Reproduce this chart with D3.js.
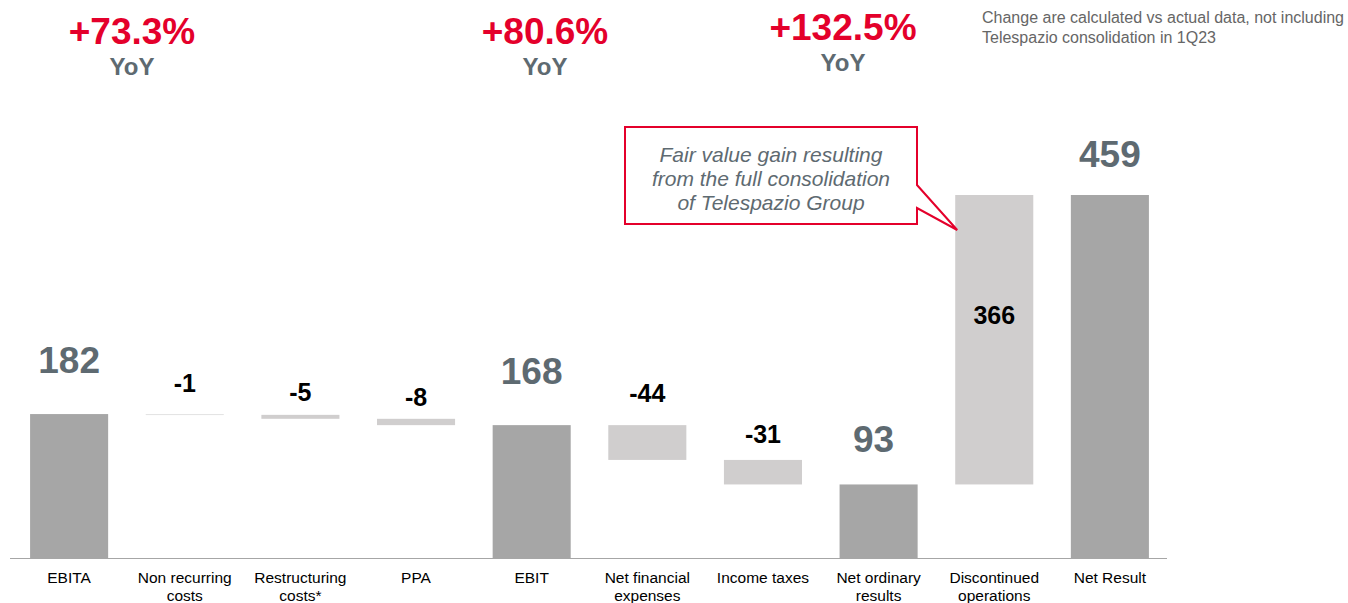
<!DOCTYPE html>
<html>
<head>
<meta charset="utf-8">
<script src="https://cdn.jsdelivr.net/npm/d3@7"></script>
<style>
  body { margin: 0; background: #fff; }
  svg { display: block; font-family: "Liberation Sans", Arial, sans-serif; }
</style>
</head>
<body>
<div id="chart"></div>
<script>
"use strict";

// chart data
var categories = [["EBITA"], ["Non recurring", "costs"], ["Restructuring", "costs*"], ["PPA"], ["EBIT"],
                  ["Net financial", "expenses"], ["Income taxes"], ["Net ordinary", "results"],
                  ["Discontinued", "operations"], ["Net Result"]];
var values = [182, -1, -5, -8, 168, -44, -31, 93, 366, 459];
var isTotal = [true, false, false, false, true, false, false, true, false, true];
var valueLabels = ["182", "-1", "-5", "-8", "168", "-44", "-31", "93", "366", "459"];

var yoyLabels = ["+73.3%", "+80.6%", "+132.5%"];
var noteLines = ["Change are calculated vs actual data, not including", "Telespazio consolidation in 1Q23"];
var calloutLines = ["Fair value gain resulting", "from the full consolidation", "of Telespazio Group"];

// small label nudges (px) so labels sit like in the slide
var labelNudge = [-6, -4, 4, 5, -6, -5, 1, 3, 0, 7];

function waterfall() {
    var w = 1348, h = 603;
    var base = 558;

    var svg = d3.select("#chart")
                .append("svg")
                .attr("width", w)
                .attr("height", h);

    // build start/end for each step
    var run = 0;
    var rows = values.map(function(v, i) {
        var r;
        if (isTotal[i]) {
            r = { y0: 0, y1: v };
            run = v;
        } else {
            r = { y0: run, y1: run + v };
            run = run + v;
        }
        r.i = i;
        r.total = isTotal[i];
        r.label = valueLabels[i];
        r.cat = categories[i];
        return r;
    });

    var x = d3.scaleBand()
              .domain(d3.range(values.length))
              .range([11, 1168])
              .paddingInner(0.325)
              .paddingOuter(0.165);

    var y = d3.scaleLinear()
              .domain([0, 459])
              .range([base, 195]);

    svg.selectAll("rect.bar")
       .data(rows)
       .enter()
       .append("rect")
       .attr("class", "bar")
       .attr("x", function(d) { return x(d.i); })
       .attr("width", x.bandwidth())
       .attr("y", function(d) { return y(Math.max(d.y0, d.y1)); })
       .attr("height", function(d) { return Math.max(1, Math.abs(y(d.y0) - y(d.y1))); })
       .style("fill", function(d) {
           if (d.i == 1) return "#e3e3e3"; // hairline step
           return d.total ? "#a6a6a6" : "#d0cece";
       });

    // axis line
    svg.append("line")
       .attr("x1", 10).attr("x2", 1167)
       .attr("y1", base + 0.5).attr("y2", base + 0.5)
       .style("stroke", "#a6a6a6")
       .style("stroke-width", 1);

    // category labels
    var cats = svg.selectAll("text.cat")
       .data(rows)
       .enter()
       .append("text")
       .attr("class", "cat")
       .attr("text-anchor", "middle")
       .attr("x", function(d) { return x(d.i) + x.bandwidth() / 2; })
       .attr("y", 583)
       .style("font-size", "15.5px")
       .style("fill", "#000");
    cats.selectAll("tspan")
        .data(function(d) { return d.cat.map(function(t) { return { t: t, xx: x(d.i) + x.bandwidth() / 2 }; }); })
        .enter()
        .append("tspan")
        .attr("x", function(d) { return d.xx; })
        .attr("dy", function(d, j) { return j == 0 ? 0 : 18; })
        .text(function(d) { return d.t; });

    // value labels
    svg.selectAll("text.val")
       .data(rows)
       .enter()
       .append("text")
       .attr("class", "val")
       .attr("text-anchor", "middle")
       .attr("x", function(d) { return x(d.i) + x.bandwidth() / 2 - (d.i == 7 ? 5 : 0); })
       .attr("y", function(d) {
           if (d.i == 8) return y((d.y0 + d.y1) / 2) - 16; // inside the tall step
           var top = y(Math.max(d.y0, d.y1));
           return (d.total ? top - 35 : top - 18) + labelNudge[d.i];
       })
       .style("font-weight", "bold")
       .style("font-size", function(d) { return d.total ? "37px" : "25px"; })
       .style("fill", function(d) { return d.total ? "#5e6a71" : "#000"; })
       .text(function(d) { return d.label; });

    // YoY headers
    var yoyX = [132, 545, 843];
    var yoyY = [44, 44, 40];
    yoyLabels.forEach(function(t, i) {
        svg.append("text")
           .attr("x", yoyX[i]).attr("y", yoyY[i])
           .attr("text-anchor", "middle")
           .style("font-weight", "bold")
           .style("font-size", "37px")
           .style("fill", "#e4002b")
           .text(t);
        svg.append("text")
           .attr("x", yoyX[i]).attr("y", yoyY[i] + 31)
           .attr("text-anchor", "middle")
           .style("font-weight", "bold")
           .style("font-size", "24px")
           .style("fill", "#5e6a71")
           .text("YoY");
    });

    // footnote top right
    svg.selectAll("text.note")
       .data(noteLines)
       .enter()
       .append("text")
       .attr("class", "note")
       .attr("x", 982)
       .attr("y", function(d, i) { return 23 + i * 20; })
       .style("font-size", "16px")
       .style("fill", "#666")
       .text(function(d) { return d; });

    // callout box pointing to the discontinued operations bar
    var tipX = x(8) + 2, tipY = y(rows[8].y1) + 35;
    svg.append("path")
       .attr("d", "M625,127 L917,127 L917,185 L" + tipX + "," + tipY + " L917,208 L917,224 L625,224 Z")
       .style("fill", "#fff")
       .style("stroke", "#e4002b")
       .style("stroke-width", 2);
    svg.selectAll("text.callout")
       .data(calloutLines)
       .enter()
       .append("text")
       .attr("class", "callout")
       .attr("x", 771)
       .attr("y", function(d, i) { return 162 + i * 24; })
       .attr("text-anchor", "middle")
       .style("font-style", "italic")
       .style("font-size", "21px")
       .style("fill", "#5e6a71")
       .text(function(d) { return d; });
}

window.onload = waterfall;
</script>
</body>
</html>
